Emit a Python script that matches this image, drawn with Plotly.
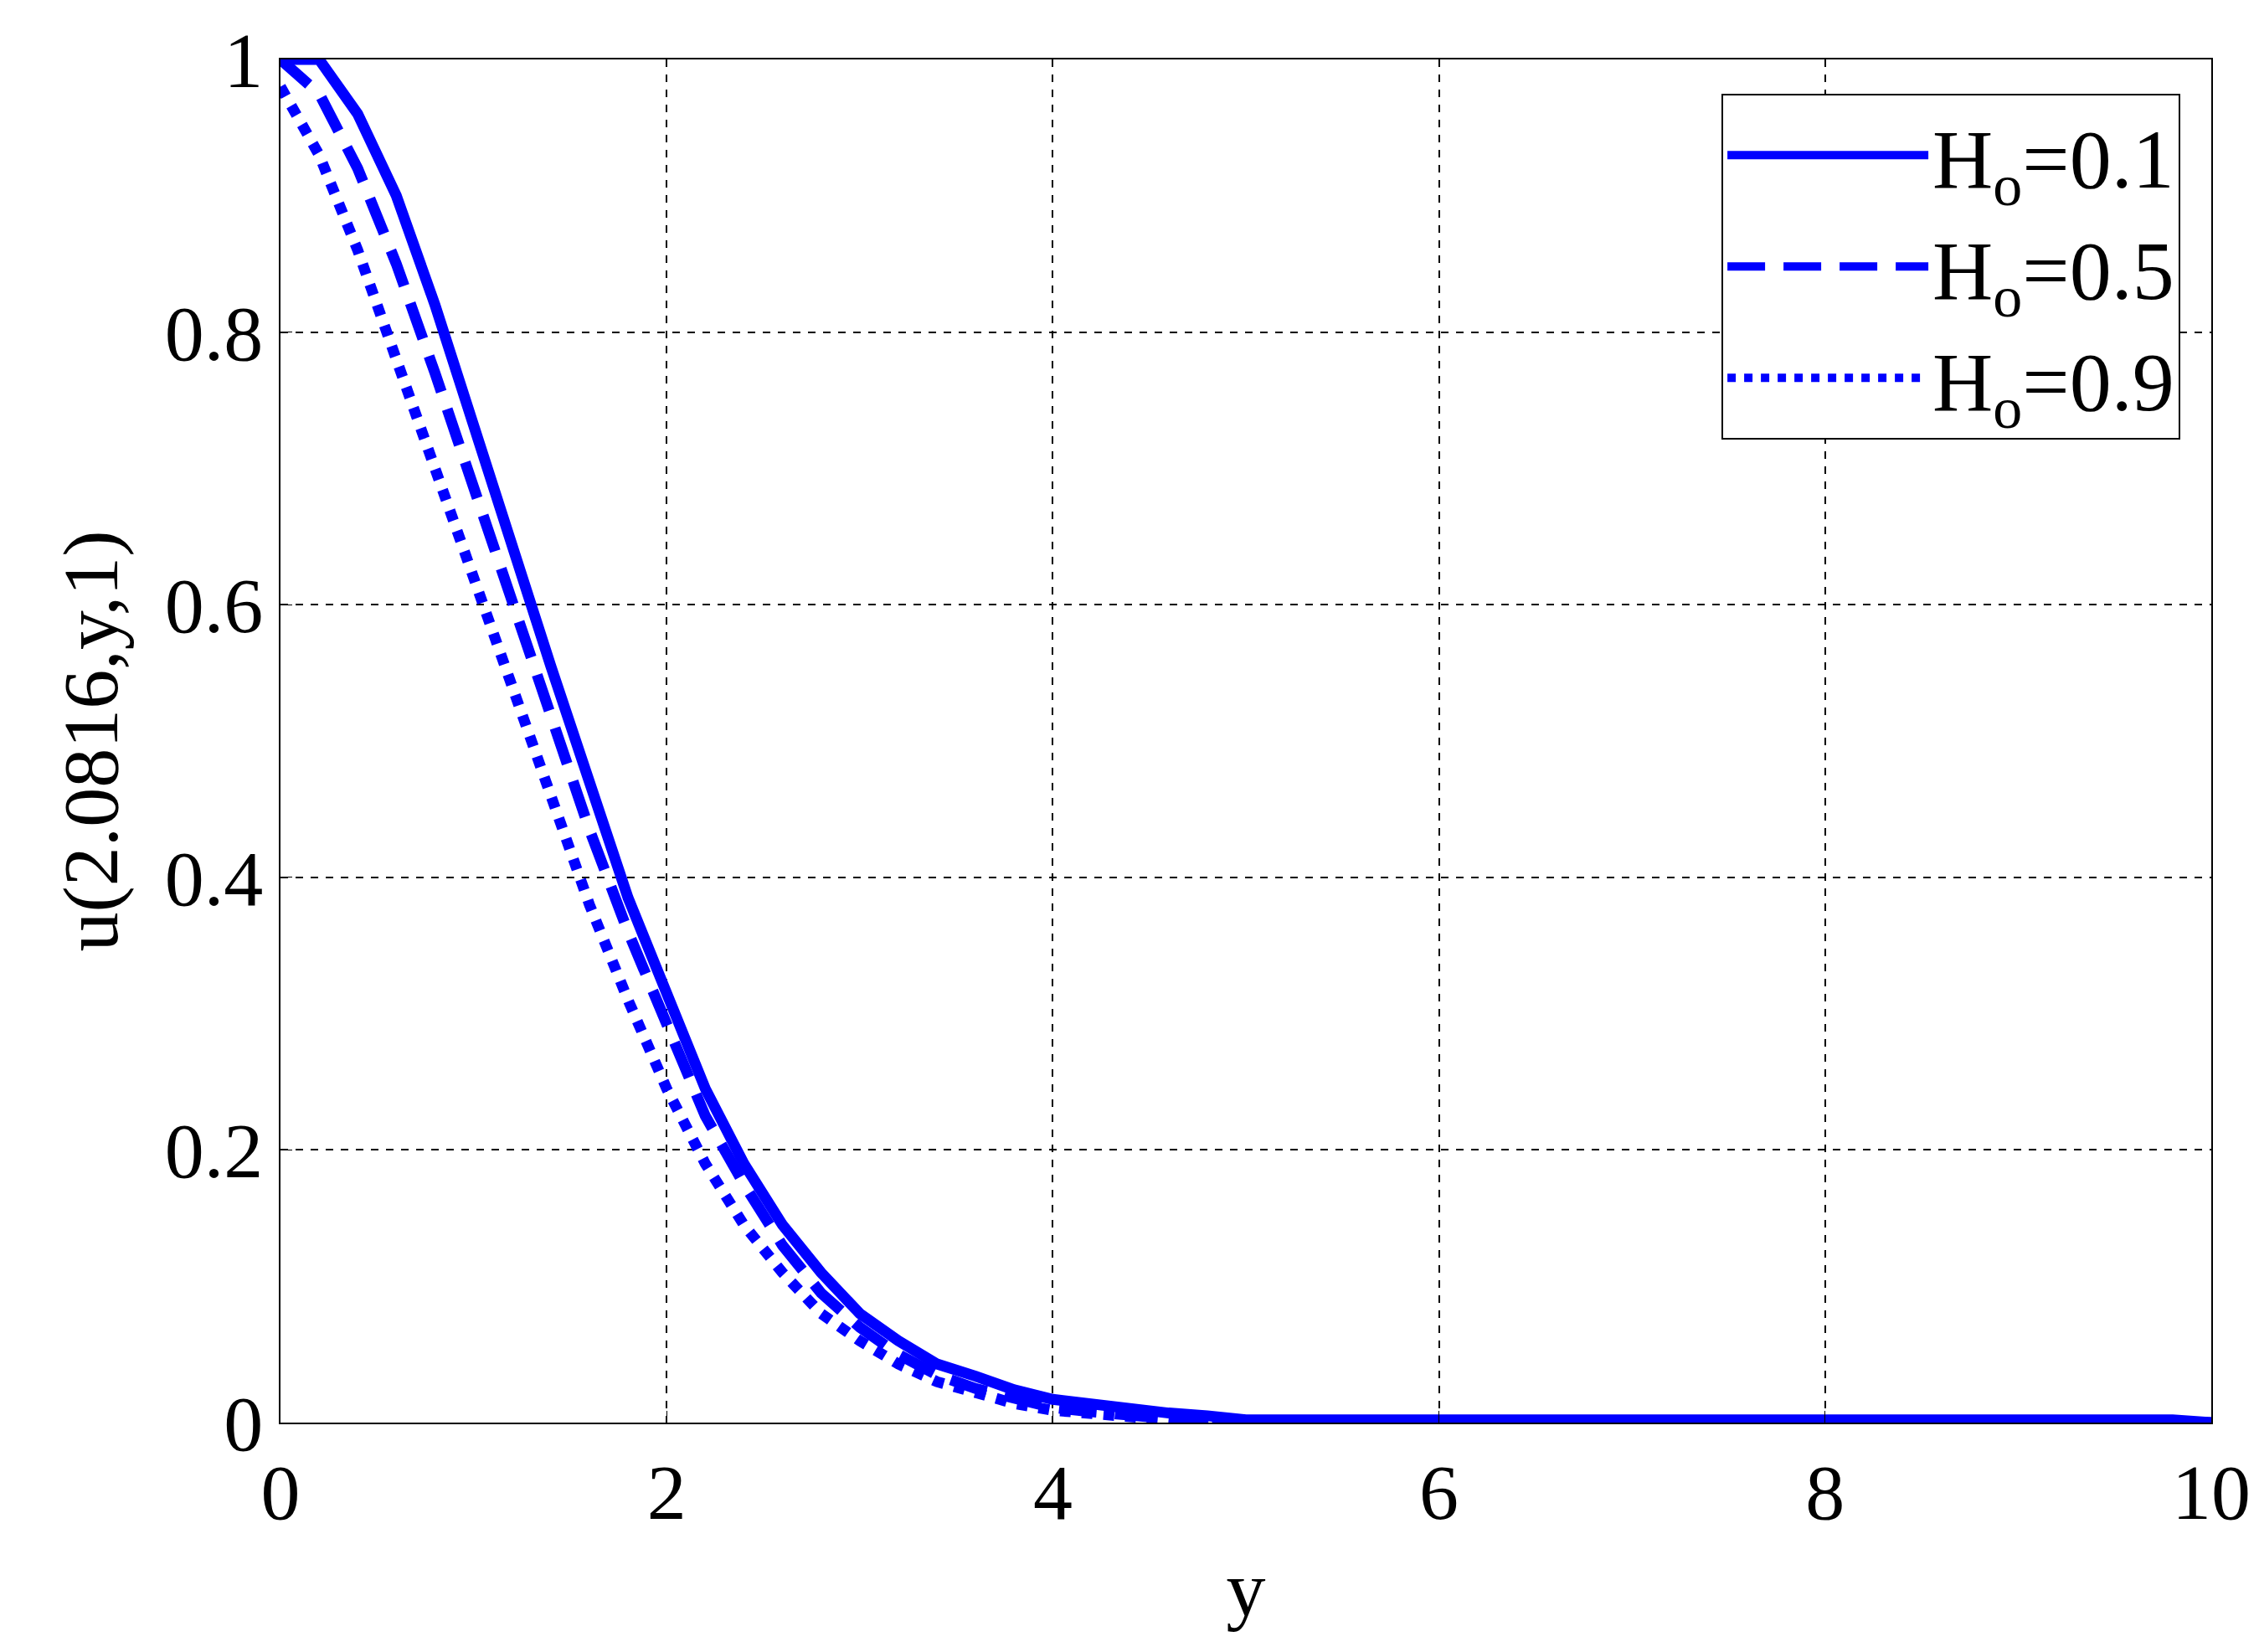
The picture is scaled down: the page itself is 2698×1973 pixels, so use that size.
import plotly.graph_objects as go

y_vals = [0,0.2,0.4,0.6,0.8,1.0,1.2,1.4,1.6,1.8,2.0,2.2,2.4,2.6,2.8,3.0,3.2,3.4,3.6,3.8,4.0,4.2,4.4,4.6,4.8,5.0,6,7,8,9,9.8,10]
u_h01 = [1,1,0.96,0.9,0.82,0.73,0.64,0.555,0.47,0.385,0.315,0.245,0.19,0.145,0.11,0.08,0.06,0.043,0.034,0.024,0.017,0.013,0.01,0.007,0.005,0.002,0.002,0.002,0.002,0.002,0.002,0]
u_h05 = [1,0.975,0.92,0.85,0.77,0.685,0.6,0.515,0.435,0.36,0.29,0.225,0.175,0.13,0.095,0.07,0.05,0.035,0.025,0.017,0.011,0.008,0.005,0.003,0.002,0.001,0.001,0.001,0.001,0.001,0.001,0]
u_h09 = [0.98,0.93,0.86,0.78,0.7,0.615,0.535,0.455,0.38,0.31,0.245,0.19,0.145,0.11,0.08,0.06,0.043,0.03,0.021,0.014,0.009,0.006,0.004,0.002,0.001,0.001,0.001,0.001,0.001,0.001,0.001,0]
labels = ["H<sub>o</sub>=0.1","H<sub>o</sub>=0.5","H<sub>o</sub>=0.9"]

fig = go.Figure()
for u, lab, dash in zip([u_h01,u_h05,u_h09], labels, ["solid","45px,22px","dot"]):
    fig.add_trace(go.Scatter(x=y_vals, y=u, mode="lines", name=lab,
                             line=dict(color="#0000FF", width=13, dash=dash)))

font = dict(family="Liberation Serif", size=94, color="black")
ax = dict(showline=True, linecolor="black", linewidth=2, mirror=True,
          showgrid=True, gridcolor="black", griddash="dash", gridwidth=1.5,
          ticks="inside", ticklen=14, tickcolor="black", zeroline=False, tickfont=font)
fig.update_layout(
    width=2698, height=1973, plot_bgcolor="white", paper_bgcolor="white",
    margin=dict(l=327, r=65, t=60, b=282),
    xaxis=dict(range=[0,10], dtick=2, title=dict(text="y", font=font, standoff=30), **ax),
    yaxis=dict(range=[0,1], dtick=0.2, title=dict(text="u(2.0816,y,1)", font=font, standoff=25), **ax),
    legend=dict(x=0.984, y=0.975, xanchor="right", yanchor="top", bgcolor="white",
                bordercolor="black", borderwidth=2, font=dict(family="Liberation Serif", size=100, color="black"),
                itemwidth=240, tracegroupgap=40),
    showlegend=True,
)
fig.write_html("out.html")
